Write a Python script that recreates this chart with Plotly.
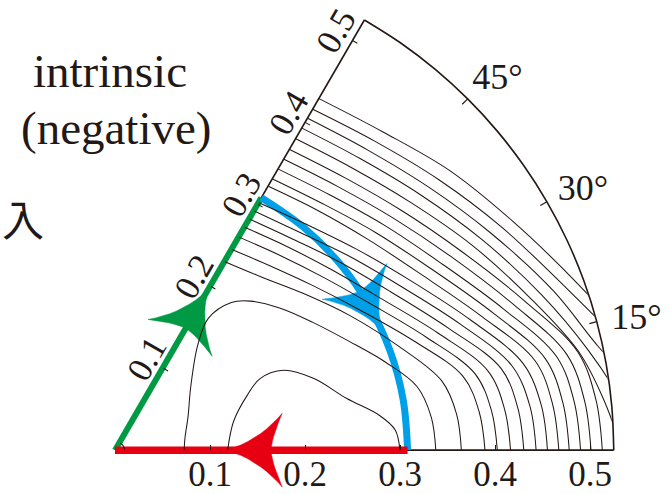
import numpy as np
import plotly.graph_objects as go

INK = "#231815"
GREEN = "#009944"
BLUE = "#00A0E9"
RED = "#E60012"

# ---- axes ----
R_MAX = 0.525
R_TICKS = [0.1, 0.2, 0.3, 0.4, 0.5]
R_TICKTEXT = ["0.1", "0.2", "0.3", "0.4", "0.5"]
ANG_TICKS = [15, 30, 45]
ANG_TICKTEXT = ["15°", "30°", "45°"]

# ---- contour lines (radius sampled at these angles) ----
TH = [60, 50, 40, 30, 20, 12, 6, 0]
lvl_01 = [0.230, 0.239, 0.258, 0.285, 0.319, 0.352, 0.362, 0.365]
lvl_02 = [0.245, 0.254, 0.271, 0.297, 0.336, 0.375, 0.386, 0.390]
lvl_03 = [0.260, 0.269, 0.285, 0.310, 0.349, 0.388, 0.399, 0.403]
lvl_04 = [0.272, 0.281, 0.297, 0.322, 0.362, 0.402, 0.413, 0.417]
lvl_05 = [0.282, 0.291, 0.309, 0.335, 0.375, 0.416, 0.427, 0.431]
lvl_06 = [0.292, 0.301, 0.320, 0.347, 0.388, 0.428, 0.440, 0.444]
lvl_07 = [0.302, 0.312, 0.331, 0.359, 0.400, 0.440, 0.452, 0.456]
lvl_08 = [0.322, 0.331, 0.347, 0.372, 0.412, 0.453, 0.464, 0.468]
lvl_09 = [0.331, 0.340, 0.358, 0.384, 0.424, 0.464, 0.475, 0.479]
lvl_10 = [0.343, 0.352, 0.370, 0.396, 0.436, 0.476, 0.487, 0.491]
lvl_11 = [0.355, 0.364, 0.382, 0.409, 0.448, 0.487, 0.498, 0.502]
lvl_12 = [0.367, 0.376, 0.394, 0.421, 0.460, 0.499, 0.510, 0.514]
lvl_13 = [0.380, 0.389, 0.407, 0.434, 0.467, 0.500, 0.518, 0.535]
lvl_14 = [0.393, 0.402, 0.420, 0.446, 0.479, 0.510, 0.535, 0.560]
lvl_15 = [0.405, 0.414, 0.432, 0.458, 0.492, 0.522, 0.560, 0.590]
lvl_16 = [0.416, 0.426, 0.445, 0.471, 0.505, 0.545, 0.580, 0.610]
lvl_17 = [0.429, 0.439, 0.460, 0.484, 0.518, 0.555, 0.590, 0.620]

# closed loops resting on the 0° edge
loop_a_theta = [0, 10, 25, 40, 52, 55, 52, 48, 41, 33, 25, 18, 12, 6, 0]
loop_a_r = [0.072, 0.074, 0.084, 0.103, 0.140, 0.170, 0.198, 0.212, 0.229,
            0.248, 0.272, 0.300, 0.325, 0.335, 0.338]
loop_b_theta = [0, 13.8, 22.6, 26.4, 25.5, 20, 12.6, 7.5, 4.1, 0]
loop_b_r = [0.118, 0.128, 0.150, 0.170, 0.196, 0.222, 0.250, 0.281, 0.296, 0.300]
loop_c_theta = [60, 30, 0]
loop_c_r = [0.009, 0.009, 0.009]

# ---- closed path: out along 60°, clockwise along the arc, back along 0° ----
path_r = 0.308
green_r = [0, path_r]
green_theta = [60, 60]
blue_theta = [60, 50, 40, 30, 20, 10, 0]
blue_r = [path_r] * len(blue_theta)
red_r = [path_r, 0]
red_theta = [0, 0]

# arrowheads on the path: tip radius, tip angle, heading (deg)
arrow_tip_r = [0.195, path_r, 0.118]
arrow_tip_theta = [60, 24.5, 0]
arrow_heading = [60, -61, 180]
arrow_color = [GREEN, BLUE, RED]

# ---- page geometry: origin of the wedge and scale in pixels ----
W_PX, H_PX = 672, 494
ORIGIN_X, ORIGIN_Y = 115, 452   # from left / from top
PX_PER_UNIT = 950
ANGLE_LABEL_R = 0.565
ANGLE_LABEL_NUDGE_PX = (3, -8)  # right, up


def to_xy(r, theta):
    r = np.asarray(r, dtype=float)
    t = np.radians(np.asarray(theta, dtype=float))
    return r * np.cos(t), r * np.sin(t)


fig = go.Figure()

# --- cartesian underlay: wedge outline, coloured path, arrowheads ---
edge_line = dict(color=INK, width=1.6)
ex, ey = to_xy([0, R_MAX], [60, 60])
fig.add_trace(go.Scatter(x=ex, y=ey, mode="lines", line=edge_line, hoverinfo="skip"))
bx, by = to_xy([0, R_MAX], [0, 0])
fig.add_trace(go.Scatter(x=bx, y=by, mode="lines", line=edge_line, hoverinfo="skip"))
arc_theta = np.arange(0, 61, 5)
ox, oy = to_xy(np.full(arc_theta.shape, R_MAX), arc_theta)
fig.add_trace(go.Scatter(x=ox, y=oy, mode="lines",
                         line=dict(color=INK, width=1.6, shape="spline", smoothing=1.0),
                         hoverinfo="skip"))

gx, gy = to_xy(green_r, green_theta)
fig.add_trace(go.Scatter(x=gx, y=gy, mode="lines", line=dict(color=GREEN, width=6),
                         hoverinfo="skip"))
ux, uy = to_xy(blue_r, blue_theta)
fig.add_trace(go.Scatter(x=ux, y=uy, mode="lines",
                         line=dict(color=BLUE, width=7, shape="spline", smoothing=1.0),
                         hoverinfo="skip"))
rx, ry = to_xy(red_r, red_theta)
fig.add_trace(go.Scatter(x=rx, y=ry, mode="lines", line=dict(color=RED, width=7.5),
                         hoverinfo="skip"))


def bezier(p0, c, p1, n=10):
    t = np.linspace(0, 1, n)[:, None]
    return (1 - t) ** 2 * np.array(p0) + 2 * (1 - t) * t * np.array(c) + t ** 2 * np.array(p1)


def stealth_head(tip_r, tip_theta, heading, length=0.058, half=0.039, notch=0.012):
    """Swept arrowhead outline with its tip at (tip_r, tip_theta), pointing along heading."""
    L, W, N = length, half, notch
    outline = np.vstack([
        bezier((0, 0), (0.6 * L, 0.28 * W), (L, W)),
        bezier((L, W), (L - 0.9 * N, 0.35 * W), (L - N, 0)),
        bezier((L - N, 0), (L - 0.9 * N, -0.35 * W), (L, -W)),
        bezier((L, -W), (0.6 * L, -0.28 * W), (0, 0)),
    ])
    h = np.radians(heading)
    d = np.array([np.cos(h), np.sin(h)])
    nrm = np.array([-np.sin(h), np.cos(h)])
    tx, ty = to_xy(tip_r, tip_theta)
    pts = np.array([tx, ty]) - outline[:, :1] * d + outline[:, 1:] * nrm
    return pts[:, 0], pts[:, 1]


for tr, tt, hd, col in zip(arrow_tip_r, arrow_tip_theta, arrow_heading, arrow_color):
    ax_, ay_ = stealth_head(tr, tt, hd)
    fig.add_trace(go.Scatter(x=ax_, y=ay_, mode="lines", fill="toself", fillcolor=col,
                             line=dict(color=col, width=0.5), hoverinfo="skip"))

# small inward ticks on the arc
for a in ANG_TICKS:
    kx, ky = to_xy([R_MAX - 0.008, R_MAX], [a, a])
    fig.add_trace(go.Scatter(x=kx, y=ky, mode="lines", line=dict(color=INK, width=1.2),
                             hoverinfo="skip"))

# angle labels just outside the arc
lx, ly = to_xy([ANGLE_LABEL_R] * len(ANG_TICKS), ANG_TICKS)
lx = lx + ANGLE_LABEL_NUDGE_PX[0] / PX_PER_UNIT
ly = ly + ANGLE_LABEL_NUDGE_PX[1] / PX_PER_UNIT
fig.add_trace(go.Scatter(x=lx, y=ly, mode="text", text=ANG_TICKTEXT,
                         textposition="middle center", cliponaxis=False,
                         textfont=dict(family="Liberation Serif", size=36, color=INK),
                         hoverinfo="skip"))

# --- polar overlay: contour lines (clipped to the wedge) ---
levels = [lvl_01, lvl_02, lvl_03, lvl_04, lvl_05, lvl_06, lvl_07, lvl_08, lvl_09,
          lvl_10, lvl_11, lvl_12, lvl_13, lvl_14, lvl_15, lvl_16, lvl_17]
contour_line = dict(color=INK, width=1.05, shape="spline", smoothing=1.0)
for lv in levels:
    fig.add_trace(go.Scatterpolar(r=lv, theta=TH, mode="lines", line=contour_line,
                                  subplot="polar", hoverinfo="skip"))
for th, rr in [(loop_a_theta, loop_a_r), (loop_b_theta, loop_b_r), (loop_c_theta, loop_c_r)]:
    fig.add_trace(go.Scatterpolar(r=rr, theta=th, mode="lines", line=contour_line,
                                  subplot="polar", hoverinfo="skip"))

tickfont = dict(family="Liberation Serif", size=35, color=INK)

# wedge placement derived from the origin and scale
wedge_px = R_MAX * PX_PER_UNIT
dom = dict(x=[ORIGIN_X / W_PX, (ORIGIN_X + wedge_px) / W_PX],
           y=[(H_PX - ORIGIN_Y) / H_PX,
              (H_PX - ORIGIN_Y + wedge_px * np.sin(np.radians(60))) / H_PX])

fig.update_layout(
    width=W_PX, height=H_PX,
    margin=dict(l=0, r=0, t=0, b=0),
    paper_bgcolor="white",
    plot_bgcolor="rgba(0,0,0,0)",
    showlegend=False,
    xaxis=dict(domain=[0, 1], range=[-ORIGIN_X / PX_PER_UNIT, (W_PX - ORIGIN_X) / PX_PER_UNIT],
               anchor="free", position=(H_PX - ORIGIN_Y) / H_PX,
               tickvals=R_TICKS, ticktext=R_TICKTEXT, ticks="inside", ticklen=5,
               tickwidth=1, tickcolor=INK, showline=False, showgrid=False,
               zeroline=False, tickfont=tickfont, fixedrange=True),
    yaxis=dict(domain=[0, 1], range=[-(H_PX - ORIGIN_Y) / PX_PER_UNIT, ORIGIN_Y / PX_PER_UNIT],
               visible=False, zeroline=False, fixedrange=True),
    polar=dict(
        domain=dom, sector=[0, 60], bgcolor="rgba(0,0,0,0)",
        radialaxis=dict(range=[0, R_MAX], angle=60, side="counterclockwise",
                        tickvals=R_TICKS, ticktext=R_TICKTEXT, ticks="inside",
                        ticklen=5, tickwidth=1, tickcolor=INK, showline=False,
                        showgrid=False, tickfont=tickfont),
        angularaxis=dict(showline=False, showgrid=False, showticklabels=False,
                         ticks="", direction="counterclockwise", rotation=0),
    ),
    annotations=[
        dict(text="intrinsic", x=110 / W_PX, y=1 - 71 / H_PX, xref="paper", yref="paper",
             xanchor="center", yanchor="middle", showarrow=False,
             font=dict(family="Liberation Serif", size=47, color=INK)),
        dict(text="(negative)", x=116 / W_PX, y=1 - 129 / H_PX, xref="paper", yref="paper",
             xanchor="center", yanchor="middle", showarrow=False,
             font=dict(family="Liberation Serif", size=47, color=INK)),
        dict(text="入", x=0, y=1 - 218 / H_PX, xref="paper", yref="paper",
             xanchor="left", yanchor="middle", showarrow=False,
             font=dict(family="Noto Sans CJK JP", size=42, color=INK)),
    ],
)

fig.write_html("out.html")
